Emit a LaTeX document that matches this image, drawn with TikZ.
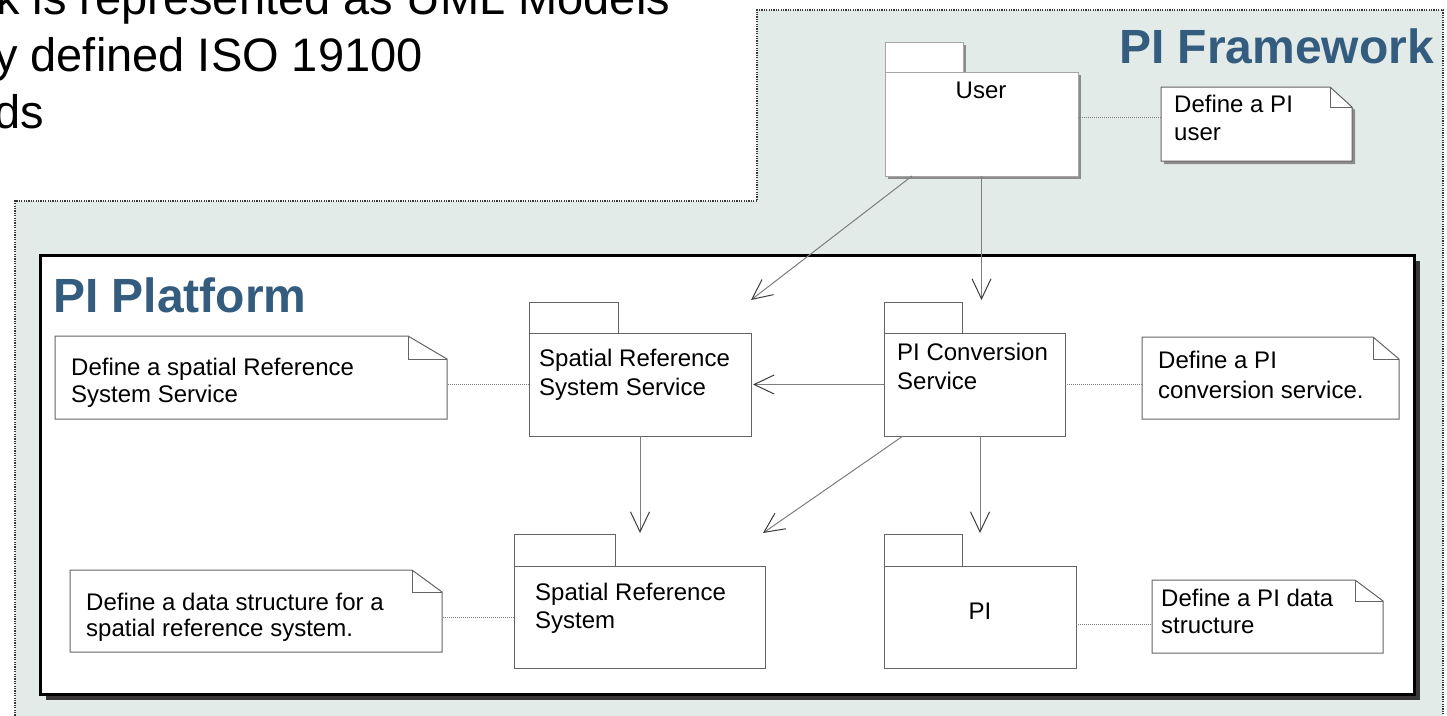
\documentclass[tikz,border=0pt]{standalone}
\usepackage{fontspec}
\setmainfont{Liberation Sans}
\usetikzlibrary{arrows.meta,calc}

\definecolor{fwfill}{RGB}{227,235,232}
\definecolor{titleblue}{RGB}{51,92,126}
\definecolor{edgegray}{RGB}{100,100,100}
\definecolor{linkgray}{RGB}{125,125,125}
\definecolor{headgray}{RGB}{60,60,60}
\definecolor{shadowgray}{RGB}{55,55,55}
\definecolor{softshadow}{RGB}{140,140,140}

\tikzset{
  pkgbody/.style={draw=edgegray, fill=white, line width=1pt, rectangle,
    inner sep=0pt, outer sep=0pt, anchor=north west},
  notebody/.style={rectangle, inner sep=0pt, outer sep=0pt, anchor=north west},
  lbl/.style={font=\fontsize{24}{28}\selectfont, inner sep=0pt, anchor=base west},
  bigtext/.style={font=\fontsize{47}{57}\selectfont, inner sep=0pt, anchor=base west},
  titletext/.style={font=\fontsize{48}{56}\selectfont\bfseries, text=titleblue, inner sep=0pt},
  dep/.style={draw=linkgray, line width=1pt,
    -{Straight Barb[length=20pt,width=19pt,line width=1pt,color=headgray]}},
  notelink/.style={draw=linkgray, line width=1pt, dash pattern=on 1pt off 1pt},
  fwborder/.style={draw=shadowgray, line width=1.2pt, dash pattern=on 1.2pt off 1.2pt},
}

% outline of a dog-eared note: #1 node name, #2 fold width, #3 fold height, #4 offset
\newcommand\dogoutline[4]{%
  ($(#1.north west)+#4$) -- ($(#1.north east)+(-#2,0)+#4$) -- ($(#1.north east)+(0,#3)+#4$)
    -- ($(#1.south east)+#4$) -- ($(#1.south west)+#4$) -- cycle}
% note with a dog-eared top-right corner
\newcommand\dognote[3]{%
  \filldraw[fill=white, draw=edgegray, line width=1pt] \dogoutline{#1}{#2}{#3}{(0,0)};
  \draw[edgegray, line width=1pt]
    ($(#1.north east)+(-#2,0)$) -- ($(#1.north east)+(-#2,#3)$) -- ($(#1.north east)+(0,#3)$);
}

\begin{document}
\begin{tikzpicture}[x=1pt, y=-1pt]
\useasboundingbox (0,0) rectangle (1447,715);
\clip (0,0) rectangle (1447,715);

% slide text
\node[bigtext] (slideA) at (-4,14) {k is represented as UML Models};
\node[bigtext] (slideB) at (-6,71) {y defined ISO 19100};
\node[bigtext] (slideC) at (-6,128) {ds};

% framework region
\fill[fwfill] (15,201) -- (757,201) -- (757,10) -- (1443,10) -- (1443,730) -- (15,730) -- cycle;
\draw[fwborder] (15,730) -- (15,201) -- (757,201) -- (757,10) -- (1443,10) -- (1443,730);
\node[titletext, anchor=base east] (fwtitle) at (1434,63) {PI Framework};

% platform container with its shadow
\fill[shadowgray] (46,693) rectangle (1420,700);
\fill[shadowgray] (1413,261) rectangle (1420,700);
\node[rectangle, draw=black, fill=white, line width=3pt, inner sep=0pt, anchor=north west,
      minimum width=1374pt, minimum height=439pt] (platform) at (39,254) {};
\node[titletext, anchor=base west] (pltitle) at (53,312) {PI Platform};

% User package (raised look)
\fill[softshadow] (888,45) rectangle (966,75);
\fill[softshadow] (888,75) rectangle (1081,179);
\node[pkgbody, draw=gray!70, minimum width=78pt, minimum height=30pt] (usertab) at (885,42) {};
\node[pkgbody, draw=gray!70, minimum width=193pt, minimum height=104pt] (user) at (885,72) {};
\node[lbl, anchor=base] (userT) at (981,98.5) {User};

% note on the User package, with its shadow
\node[notebody, minimum width=191pt, minimum height=74pt] (nuser) at (1161,87) {};
\fill[softshadow] \dogoutline{nuser}{22}{20}{(3,3)};
\dognote{nuser}{22}{20}
\node[lbl] (nuserA) at (1174,112.5) {Define a PI};
\node[lbl] (nuserB) at (1174,140.5) {user};

% Spatial Reference System Service package
\node[pkgbody, minimum width=89pt, minimum height=31pt] (srsstab) at (529,302) {};
\node[pkgbody, minimum width=222pt, minimum height=103pt] (srss) at (529,333) {};
\node[lbl] (srssA) at (539,366.5) {Spatial Reference};
\node[lbl] (srssB) at (539,395.5) {System Service};

% PI Conversion Service package
\node[pkgbody, minimum width=78pt, minimum height=31pt] (convtab) at (884,302) {};
\node[pkgbody, minimum width=181pt, minimum height=103pt] (conv) at (884,333) {};
\node[lbl] (convA) at (897,360.5) {PI Conversion};
\node[lbl] (convB) at (897,389.5) {Service};

% Spatial Reference System package
\node[pkgbody, minimum width=101pt, minimum height=32pt] (srstab) at (514,534) {};
\node[pkgbody, minimum width=251pt, minimum height=102pt] (srs) at (514,566) {};
\node[lbl] (srsA) at (535,600.5) {Spatial Reference};
\node[lbl] (srsB) at (535,628.5) {System};

% PI package
\node[pkgbody, minimum width=78pt, minimum height=32pt] (pitab) at (884,534) {};
\node[pkgbody, minimum width=192pt, minimum height=102pt] (pi) at (884,566) {};
\node[lbl, anchor=base] (piT) at (980,619.5) {PI};

% notes inside the platform
\node[notebody, minimum width=392pt, minimum height=83pt] (nsrss) at (55,336) {};
\dognote{nsrss}{39}{23}
\node[lbl] (nsrssA) at (71,375.5) {Define a spatial Reference};
\node[lbl] (nsrssB) at (71,402.5) {System Service};

\node[notebody, minimum width=257pt, minimum height=82pt] (nconv) at (1142,337) {};
\dognote{nconv}{26}{22}
\node[lbl] (nconvA) at (1158,368.5) {Define a PI};
\node[lbl] (nconvB) at (1158,398.5) {conversion service.};

\node[notebody, minimum width=372pt, minimum height=82pt] (nsrs) at (70,570) {};
\dognote{nsrs}{30}{22}
\node[lbl] (nsrsA) at (86,610.5) {Define a data structure for a};
\node[lbl] (nsrsB) at (86,636.5) {spatial reference system.};

\node[notebody, minimum width=231pt, minimum height=73pt] (npi) at (1152,580) {};
\dognote{npi}{28}{21}
\node[lbl] (npiA) at (1161,606.5) {Define a PI data};
\node[lbl] (npiB) at (1161,633.5) {structure};

% note links
\draw[notelink] ([yshift=7pt]user.east) -- ([yshift=7pt]user.east -| nuser.west);
\draw[notelink] (srss.west) -- (srss.west -| nsrss.east);
\draw[notelink] (conv.east) -- (conv.east -| nconv.west);
\draw[notelink] (srs.west) -- (srs.west -| nsrs.east);
\draw[notelink] ([yshift=-7pt]pi.east) -- ([yshift=-7pt]pi.east -| npi.west);

% dependencies
\draw[dep] ([xshift=27pt]user.south west) -- ([yshift=33pt]srss.north east);
\draw[dep] (user.south) -- ([yshift=2pt]user.south |- convtab.north);
\draw[dep] (conv.west) -- ([xshift=2pt]srss.east);
\draw[dep] (srss.south) -- ([yshift=1pt]srss.south |- srstab.north);
\draw[dep] ([xshift=19pt]conv.south west) -- ([yshift=33pt,xshift=-2pt]srs.north east);
\draw[dep] (pi.north |- conv.south) -- ([yshift=1pt]pi.north |- pitab.north);
\end{tikzpicture}
\end{document}
